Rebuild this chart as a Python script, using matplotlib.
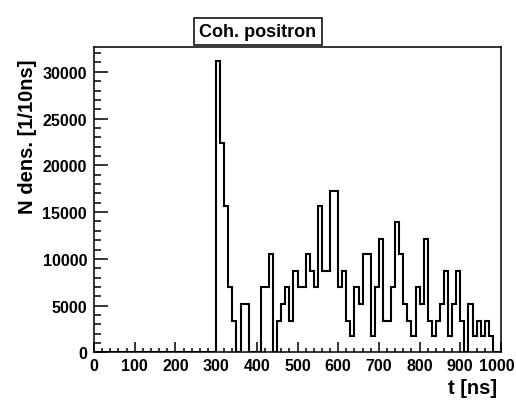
import matplotlib
matplotlib.use('Agg')
import matplotlib.pyplot as plt
import numpy as np
from matplotlib.ticker import MultipleLocator
from matplotlib.transforms import ScaledTranslation

# 10 ns bins from 0 to 1000 ns
bin_width_ns = 10
t_min, t_max = 0, 1000

# entries per 10 ns bin (bins 0-290 ns are empty)
n_dens = [
    0, 0, 0, 0, 0, 0, 0, 0, 0, 0,
    0, 0, 0, 0, 0, 0, 0, 0, 0, 0,
    0, 0, 0, 0, 0, 0, 0, 0, 0, 0,
    31150, 22400, 15600, 7000, 3400, 0, 5200, 5200, 0, 0,
    0, 7000, 7000, 10550, 0, 3400, 5200, 7000, 3400, 8750,
    7000, 7000, 10550, 8750, 7000, 15600, 8750, 8750, 17300, 17300,
    7000, 8750, 3400, 1750, 7000, 5200, 10550, 10550, 1750, 7000,
    12150, 3400, 3400, 7000, 13900, 10550, 5200, 3400, 1750, 7000,
    5200, 12150, 3400, 1750, 3400, 5200, 8750, 1750, 5200, 8750,
    3400, 0, 5200, 1750, 3400, 1750, 3400, 1750, 0, 0,
]

title = 'Coh. positron'
x_title = 't [ns]'
y_title = 'N dens. [1/10ns]'

plt.rcParams['font.family'] = ['Liberation Sans', 'DejaVu Sans']
plt.rcParams['font.weight'] = 'bold'

W, H = 516, 402
fig = plt.figure(figsize=(W / 100, H / 100), dpi=100)
ax = fig.add_axes([94 / W, 48.6 / H, 407 / W, 305.9 / H])

edges = np.arange(t_min, t_max + bin_width_ns, bin_width_ns)
ax.stairs(n_dens, edges, color='black', lw=1.5, baseline=0)

ax.set_xlim(t_min, t_max)
ax.set_ylim(0, max(n_dens) * 1.05)

ax.xaxis.set_major_locator(MultipleLocator(100))
ax.xaxis.set_minor_locator(MultipleLocator(20))
ax.yaxis.set_major_locator(MultipleLocator(5000))
ax.yaxis.set_minor_locator(MultipleLocator(1000))

ax.tick_params(axis='both', which='both', direction='in', top=False, right=False,
               labelsize=11.5, width=1.1)
ax.tick_params(axis='x', which='major', length=7, pad=4)
ax.tick_params(axis='x', which='minor', length=3)
ax.tick_params(axis='y', which='major', length=10, pad=5)
ax.tick_params(axis='y', which='minor', length=5)
for lab in ax.get_xticklabels() + ax.get_yticklabels():
    lab.set_fontweight('bold')

# keep the "1000" label inside the canvas
fig.canvas.draw()
last = ax.xaxis.get_major_ticks()[-1].label1
for tk in ax.xaxis.get_major_ticks():
    if tk.label1.get_text() == '1000':
        last = tk.label1
last.set_transform(last.get_transform() +
                   ScaledTranslation(-4 / 100, 0, fig.dpi_scale_trans))

for sp in ax.spines.values():
    sp.set_linewidth(1.1)

fig.text(497 / W, 1 - 389 / H, x_title, ha='right', va='center',
         fontsize=14.5, fontweight='bold')
fig.text(28 / W, 1 - 60 / H, y_title, ha='center', va='top', rotation=90,
         fontsize=14.5, fontweight='bold')

fig.text(258 / W, 1 - 32.5 / H, title, ha='center', va='center',
         fontsize=13, fontweight='bold',
         bbox=dict(boxstyle='square,pad=0.3', facecolor='white',
                   edgecolor='black', lw=1.1))

fig.savefig('out.png', dpi=100, facecolor='white')
